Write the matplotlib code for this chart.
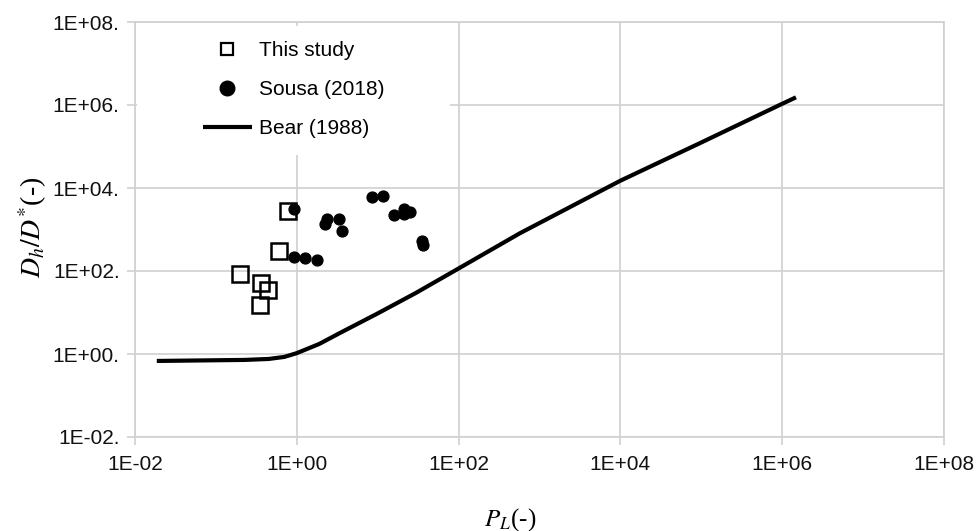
import matplotlib
matplotlib.use("Agg")
import matplotlib.pyplot as plt
from matplotlib.patches import Rectangle
from matplotlib.ticker import FixedLocator, NullLocator

plt.rcParams['font.family'] = ['Liberation Sans', 'DejaVu Sans']
plt.rcParams['mathtext.fontset'] = 'stix'

# This study
study_x = [0.77, 0.60, 0.20, 0.356, 0.44, 0.35]
study_y = [2790, 309, 86, 50, 35, 15]

# Sousa (2018)
sousa_x = [0.93, 0.93, 1.27, 1.80, 2.2, 2.39, 3.30, 3.6, 8.4, 11.5,
           15.7, 21.2, 21.0, 24.9, 35.4, 36.4]
sousa_y = [3080, 221, 202, 184, 1334, 1760, 1760, 934, 6170, 6530,
           2275, 3170, 2320, 2630, 528, 415]

# Bear (1988)
bear_x = [0.0186, 0.227, 0.45, 0.7, 1.0, 1.9, 3.4, 10, 30, 100, 571, 1e4,
          1e5, 1e6, 1.48e6]
bear_y = [0.68, 0.72, 0.76, 0.85, 1.05, 1.75, 3.2, 9.5, 30, 115, 810, 15000,
          1.25e5, 1.07e6, 1.53e6]

x_ticks = [1e-2, 1e0, 1e2, 1e4, 1e6, 1e8]
x_tick_labels = ["1E-02", "1E+00", "1E+02", "1E+04", "1E+06", "1E+08"]
y_ticks = [1e-2, 1e0, 1e2, 1e4, 1e6, 1e8]
y_tick_labels = ["1E-02.", "1E+00.", "1E+02.", "1E+04.", "1E+06.", "1E+08."]

fig = plt.figure(figsize=(9.76, 5.31), dpi=100)
ax = fig.add_axes([135/976, 1-437/531, (944-135)/976, (437-22)/531])
ax.set_xscale('log')
ax.set_yscale('log')
ax.set_xlim(1e-2, 1e8)
ax.set_ylim(1e-2, 1e8)

gridc = '#d0d0d0'
ax.xaxis.set_major_locator(FixedLocator(x_ticks))
ax.yaxis.set_major_locator(FixedLocator(y_ticks))
ax.xaxis.set_minor_locator(NullLocator())
ax.yaxis.set_minor_locator(NullLocator())
ax.set_xticklabels(x_tick_labels)
ax.set_yticklabels(y_tick_labels)
ax.grid(True, color=gridc, linewidth=1.2, zorder=0)
ax.set_axisbelow(True)
for s in ax.spines.values():
    s.set_color(gridc)
    s.set_linewidth(1.2)
ax.tick_params(axis='both', which='major', length=6, width=1.2, color=gridc,
               labelsize=15, labelcolor='#111111')
ax.tick_params(axis='x', pad=7)
ax.tick_params(axis='y', pad=5)

ax.plot(study_x, study_y, linestyle='none', marker='s', markersize=12,
        markerfacecolor='none', markeredgecolor='black', markeredgewidth=1.8,
        label='This study', zorder=3)
ax.plot(sousa_x, sousa_y, linestyle='none', marker='o', markersize=7.8,
        markerfacecolor='black', markeredgecolor='black',
        label='Sousa (2018)', zorder=4)
ax.plot(bear_x, bear_y, color='black', linewidth=3.0, label='Bear (1988)',
        zorder=3, solid_capstyle='butt', solid_joinstyle='round')

# white legend area
ax.add_patch(Rectangle(((137-135)/809, (437-155)/415), (450-137)/809,
                       (155-26)/415, transform=ax.transAxes,
                       facecolor='white', edgecolor='none', zorder=5))
leg = ax.legend(loc='upper left', bbox_to_anchor=((203-135)/809, (437-41)/415),
                frameon=False, fontsize=15, borderpad=0, borderaxespad=0,
                handlelength=2.35, handletextpad=0.35, labelspacing=0.96)
leg.set_zorder(6)
hs = leg.legend_handles
hs[0].set_markersize(8.0)
hs[0].set_markeredgewidth(1.6)
hs[1].set_markersize(10.5)

ax.set_xlabel(r'$\mathbf{\mathit{P}}_{L}$(-)', fontsize=18,
              family=['Liberation Serif', 'DejaVu Serif'])
ax.xaxis.set_label_coords((510-135)/809, (437-506)/415)
ax.set_ylabel(r'$D_h/D^{*}$(-)', fontsize=20,
              family=['Liberation Serif', 'DejaVu Serif'])
ax.yaxis.set_label_coords((49-135)/809, 0.505)

fig.savefig('out.png', dpi=100)
